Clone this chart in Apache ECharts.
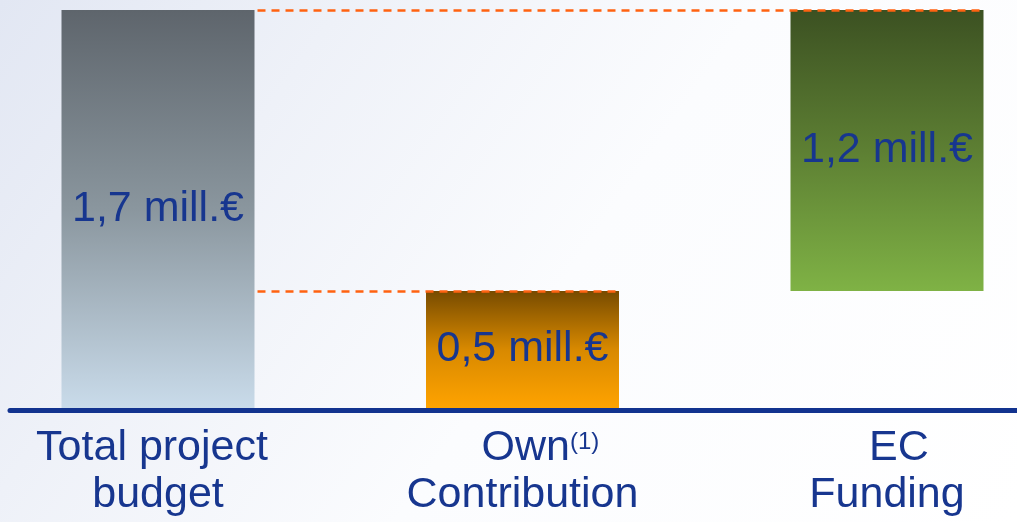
<!DOCTYPE html>
<html><head><meta charset="utf-8">
<script src="https://cdn.jsdelivr.net/npm/echarts@6/dist/echarts.min.js"></script>
<style>
html,body{margin:0;padding:0;background:#fff}
#c{width:1017px;height:522px;background:linear-gradient(125deg,#e2e7f3 0%,#eef1f8 25%,#fbfcfe 55%,#ffffff 100%)}
</style>
</head><body><div id="c"></div>
<script>
// ---- data ----
const categories = ['Total project \nbudget', '   Own{sup|(1)}\nContribution', '  EC\nFunding'];
const baseValues = [0, 0, 0.5];
const barValues = [1.7, 0.5, 1.2];
const valueLabels = ['1,7 mill.€', '0,5 mill.€', '1,2 mill.€'];
const guideLevels = [1.7, 0.5];
// ---- styles ----
const barGradients = [
  ['#5e656c', '#8a969e', '#c9dbea'],
  ['#774b00', '#d88900', '#ffa300'],
  ['#3c5122', '#5d7f33', '#7fb245']
];
const textColor = '#17368f';
const FONT = "'Liberation Sans', Arial, sans-serif";
const BAR_W = 193;

const chart = echarts.init(document.getElementById('c'), null, {renderer: 'canvas'});
function grad(i) {
  const c = barGradients[i];
  return new echarts.graphic.LinearGradient(0, 0, 0, 1, [
    {offset: 0, color: c[0]}, {offset: 0.5, color: c[1]}, {offset: 1, color: c[2]}
  ]);
}
const option = {
  animation: false,
  backgroundColor: 'transparent',
  grid: [
    {left: 158, right: 130, top: 10, bottom: 114},
    {left: 10, right: 0, top: 10, bottom: 111.5}
  ],
  xAxis: [
    {type: 'category', gridIndex: 0, data: categories, boundaryGap: false,
     axisLine: {show: false}, axisTick: {show: false},
     axisLabel: {interval: 0, margin: 17, fontSize: 43, lineHeight: 47, color: textColor, fontFamily: FONT,
       rich: {sup: {fontSize: 24, lineHeight: 47, verticalAlign: 'top', padding: [5, 0, 0, 0], color: textColor, fontFamily: FONT}}}},
    {type: 'category', gridIndex: 1, data: [''],
     axisLine: {show: true, lineStyle: {color: '#12338f', width: 5}},
     axisTick: {show: false}, axisLabel: {show: false}}
  ],
  yAxis: [
    {type: 'value', gridIndex: 0, min: 0, max: 1.7, show: false},
    {type: 'value', gridIndex: 1, min: 0, max: 1, show: false}
  ],
  series: [
    {type: 'bar', stack: 'w', xAxisIndex: 0, yAxisIndex: 0, barWidth: BAR_W, silent: true,
     itemStyle: {color: 'transparent'}, data: baseValues},
    {type: 'bar', stack: 'w', xAxisIndex: 0, yAxisIndex: 0, barWidth: BAR_W,
     data: barValues.map((v, i) => ({value: v, itemStyle: {color: grad(i)}})),
     label: {show: true, position: 'inside', formatter: p => valueLabels[p.dataIndex],
       fontSize: 43, color: textColor, fontFamily: FONT}}
  ]
};
chart.setOption(option);

const xc = i => chart.convertToPixel({xAxisIndex: 0}, i);
const startX = xc(0) + BAR_W / 2 + 3;
chart.setOption({
  series: [{}, {
    markLine: {
      silent: true, symbol: ['none', 'none'], label: {show: false},
      lineStyle: {color: '#ff6210', type: [8, 6], width: 2.5, opacity: 1},
      data: [
        [{yAxis: guideLevels[0], x: startX}, {yAxis: guideLevels[0], x: xc(2) + BAR_W / 2 - 4}],
        [{yAxis: guideLevels[1], x: startX}, {yAxis: guideLevels[1], x: xc(1) + BAR_W / 2}]
      ]
    }
  }]
});
</script>
</body></html>
